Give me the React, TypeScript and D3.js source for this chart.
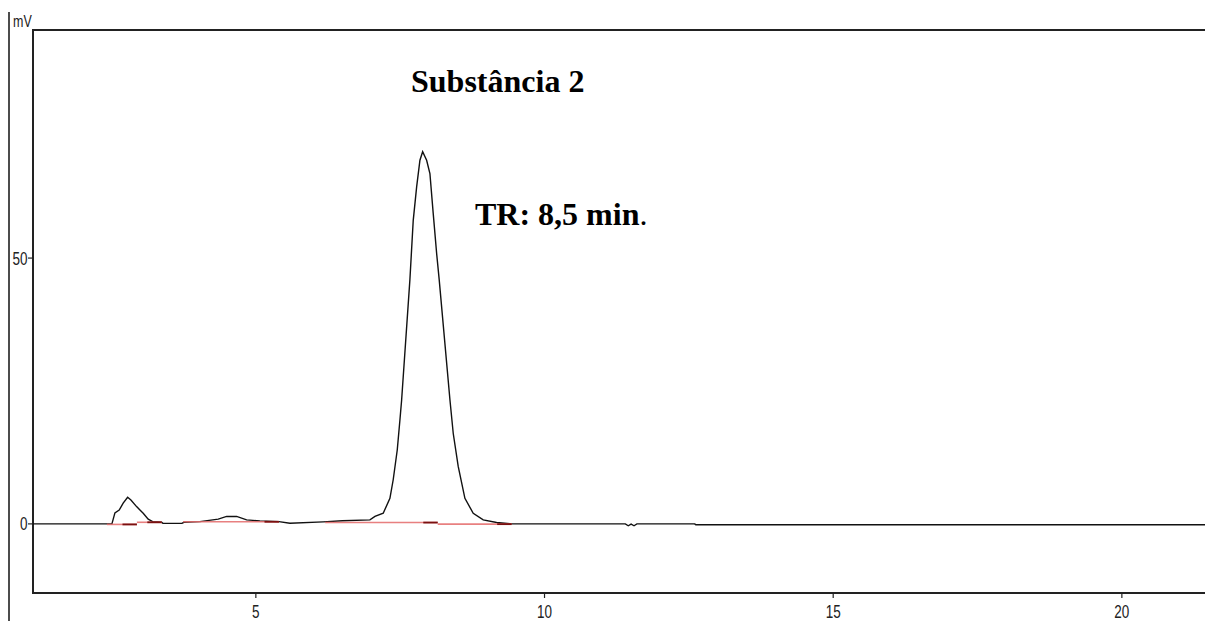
import React from "react";
import * as d3 from "d3";

// Chromatogram trace (time in min, signal in mV)
const timeMin = [1.14, 2.507, 2.559, 2.633, 2.702, 2.779, 2.836, 2.934, 3.049, 3.135, 3.212, 3.367, 3.39, 3.72, 3.754, 4.031, 4.348, 4.494, 4.667, 4.84, 5.07, 5.4, 5.59, 6.167, 6.5, 6.976, 7.063, 7.206, 7.322, 7.379, 7.449, 7.495, 7.525, 7.668, 7.726, 7.785, 7.842, 7.889, 7.958, 8.015, 8.072, 8.131, 8.176, 8.362, 8.419, 8.505, 8.621, 8.765, 8.938, 9.17, 9.43, 11.4, 11.45, 11.5, 11.55, 11.6, 12.6, 12.62, 21.44];
const signalMv = [0, 0, 2.07, 2.6, 3.9, 5.0, 4.5, 3.25, 2.0, 0.9, 0.43, 0.32, 0.1, 0.1, 0.3, 0.43, 0.9, 1.4, 1.4, 0.75, 0.56, 0.43, 0.13, 0.38, 0.6, 0.75, 1.4, 2.0, 4.8, 8.3, 13.9, 19.5, 23.3, 45.9, 57.1, 63.4, 68.4, 70.0, 68.4, 65.9, 58.4, 50.9, 45.9, 23.3, 17.0, 10.8, 4.8, 2.0, 0.75, 0.25, 0, 0, -0.35, -0.05, -0.35, 0, 0, -0.15, -0.15];

// Integration baselines (red): start, end times and level
const baseStart = [2.42, 2.94, 3.74, 6.2, 8.15];
const baseEnd = [2.94, 3.37, 5.4, 8.15, 9.43];
const baseLevel = [-0.1, 0.3, 0.4, 0.25, -0.05];

const xTicks = [5, 10, 15, 20];
const yTicks = [0, 50];

const title = "Substância 2";
const retention = "TR: 8,5 min";

const W = 1205;
const H = 621;

export default function App() {
  const x = d3.scaleLinear().domain([1.14, 21.44]).range([33, 1205]);
  const y = d3.scaleLinear().domain([-13, 92.9]).range([593, 30]);
  const pts: [number, number][] = timeMin.map((t, i) => [t, signalMv[i]]);
  const line = d3
    .line<[number, number]>()
    .x((d) => x(d[0]))
    .y((d) => y(d[1]));
  const axisFont = "'Liberation Sans', Arial, sans-serif";
  const serif = "'Liberation Serif', 'Times New Roman', serif";

  return (
    <svg
      width={W}
      height={H}
      style={{ position: "absolute", left: 0, top: 0, background: "#fff" }}
    >
      <rect x={0} y={0} width={W} height={H} fill="#fff" />
      <defs>
        <clipPath id="plot">
          <rect x={33} y={30} width={W - 33} height={563} />
        </clipPath>
      </defs>
      {/* outer left line */}
      <line x1={9} y1={12} x2={9} y2={H} stroke="#111" strokeWidth={1.5} />
      {/* frame */}
      <line x1={33} y1={30} x2={W} y2={30} stroke="#222" strokeWidth={2} />
      <line x1={33} y1={593} x2={W} y2={593} stroke="#222" strokeWidth={2} />
      <line x1={33} y1={29} x2={33} y2={594} stroke="#222" strokeWidth={2} />
      <text
        transform="translate(13,27) scale(0.78,1)"
        fontFamily={axisFont}
        fontSize={16}
        fill="#222"
      >
        mV
      </text>
      {yTicks.map((v) => (
        <g key={"y" + v}>
          <line x1={28} x2={33} y1={y(v)} y2={y(v)} stroke="#222" strokeWidth={1.2} />
          <text
            transform={`translate(27.5,${y(v)}) scale(0.75,1)`}
            dy="0.36em"
            textAnchor="end"
            fontFamily={axisFont}
            fontSize={18}
            fill="#222"
          >
            {v}
          </text>
        </g>
      ))}
      {xTicks.map((v) => (
        <g key={"x" + v}>
          <line x1={x(v)} x2={x(v)} y1={593} y2={598} stroke="#222" strokeWidth={1.2} />
          <text
            transform={`translate(${x(v)},618) scale(0.75,1)`}
            textAnchor="middle"
            fontFamily={axisFont}
            fontSize={18}
            fill="#222"
          >
            {v}
          </text>
        </g>
      ))}
      <g clipPath="url(#plot)">
        <path d={line(pts) || ""} fill="none" stroke="#111" strokeWidth={1.4} />
        {baseStart.map((s, i) => {
          const e = baseEnd[i];
          const lv = baseLevel[i];
          const darkStart = Math.max(s, e - 0.25);
          return (
            <g key={"b" + i}>
              <line
                x1={x(s)}
                x2={x(e)}
                y1={y(lv)}
                y2={y(lv)}
                stroke="#e46a6a"
                strokeOpacity={0.85}
                strokeWidth={1.6}
              />
              <line
                x1={x(darkStart)}
                x2={x(e)}
                y1={y(lv)}
                y2={y(lv)}
                stroke="#7a1010"
                strokeWidth={1.8}
              />
            </g>
          );
        })}
      </g>
      <text x={411} y={92} fontFamily={serif} fontWeight="bold" fontSize={32} fill="#000">
        {title}
      </text>
      <text x={475} y={225} fontFamily={serif} fontWeight="bold" fontSize={32} fill="#000">
        {retention}
        <tspan fontWeight="normal">.</tspan>
      </text>
    </svg>
  );
}
